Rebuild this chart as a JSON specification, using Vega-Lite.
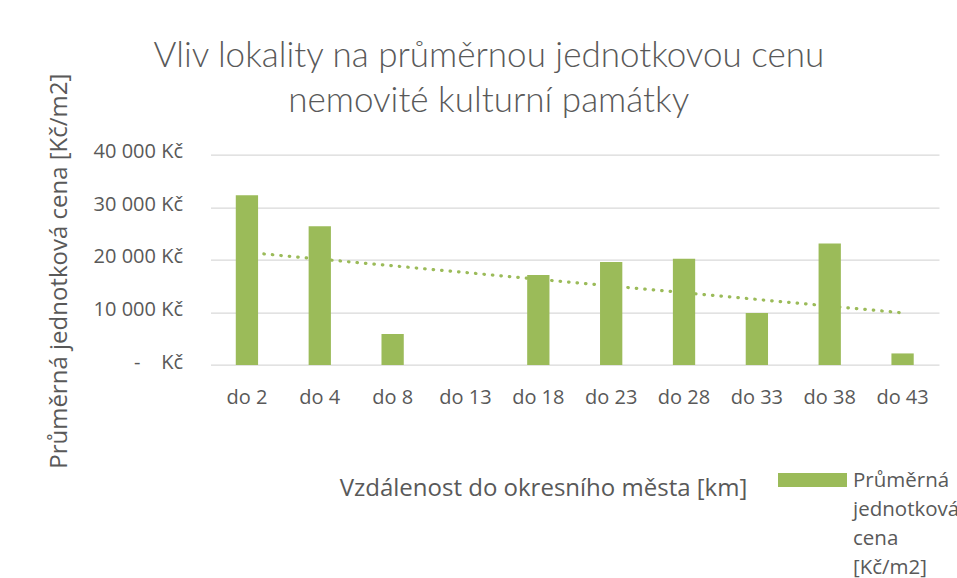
{
  "$schema": "https://vega.github.io/schema/vega-lite/v6.json",
  "autosize": "none",
  "width": 728.5,
  "height": 210.3,
  "padding": {"left": 210.5, "top": 154.7, "right": 18, "bottom": 213},
  "background": "white",
  "datasets": {
    "bars": [
      {"cat": "do 2", "idx": 1, "value": 32300},
      {"cat": "do 4", "idx": 2, "value": 26400},
      {"cat": "do 8", "idx": 3, "value": 5900},
      {"cat": "do 13", "idx": 4, "value": 0},
      {"cat": "do 18", "idx": 5, "value": 17100},
      {"cat": "do 23", "idx": 6, "value": 19600},
      {"cat": "do 28", "idx": 7, "value": 20200},
      {"cat": "do 33", "idx": 8, "value": 9900},
      {"cat": "do 38", "idx": 9, "value": 23100},
      {"cat": "do 43", "idx": 10, "value": 2200}
    ]
  },
  "data": {"name": "bars"},
  "title": {
    "text": ["Vliv lokality na průměrnou jednotkovou cenu", "nemovité kulturní památky"],
    "font": "Lato",
    "fontWeight": 300,
    "fontSize": 35,
    "color": "#595959",
    "lineHeight": 45,
    "anchor": "middle",
    "dx": -86,
    "baseline": "alphabetic",
    "offset": -74
  },
  "layer": [
    {
      "transform": [
        {"regression": "value", "on": "idx"},
        {"lookup": "idx", "from": {"data": {"name": "bars"}, "key": "idx", "fields": ["cat"]}}
      ],
      "mark": {"type": "line", "color": "#9BBB59", "strokeWidth": 3.2, "strokeCap": "round", "strokeDash": [0.5, 8]},
      "encoding": {
        "x": {"field": "cat", "type": "nominal"},
        "y": {"field": "value", "type": "quantitative"}
      }
    },
    {
      "mark": {"type": "bar"},
      "encoding": {
        "x": {
          "field": "cat",
          "type": "nominal",
          "scale": {
            "domain": ["do 2", "do 4", "do 8", "do 13", "do 18", "do 23", "do 28", "do 33", "do 38", "do 43"],
            "paddingInner": 0.694,
            "paddingOuter": 0.347
          },
          "axis": {
            "title": "Vzdálenost do okresního města [km]",
            "labelAngle": 0,
            "labelAlign": "center",
            "labelFont": "Open Sans",
            "labelFontSize": 20,
            "labelColor": "#595959",
            "labelPadding": 32,
            "ticks": false,
            "tickSize": 0,
            "domain": false,
            "titleFont": "Open Sans",
            "titleFontSize": 24,
            "titleFontWeight": "normal",
            "titleColor": "#595959",
            "titleX": 332.5,
            "titleY": 130,
            "titleAlign": "center",
            "titleBaseline": "alphabetic"
          }
        },
        "y": {
          "field": "value",
          "type": "quantitative",
          "scale": {"domain": [0, 40000]},
          "axis": {
            "title": "Průměrná jednotková cena [Kč/m2]",
            "values": [0, 10000, 20000, 30000, 40000],
            "labelExpr": "datum.value == 0 ? '-\u00a0\u00a0\u00a0\u00a0Kč' : replace(format(datum.value, ','), ',', ' ') + ' Kč'",
            "labelFont": "Open Sans",
            "labelFontSize": 20,
            "labelColor": "#595959",
            "labelPadding": 28,
            "labelOffset": -3,
            "ticks": false,
            "tickSize": 0,
            "domain": false,
            "gridColor": "#D9D9D9",
            "gridWidth": 1.3,
            "titleFont": "Open Sans",
            "titleFontSize": 24,
            "titleFontWeight": "normal",
            "titleColor": "#595959",
            "titleX": -144.5,
            "titleY": 116,
            "titleAngle": -90,
            "titleAlign": "center",
            "titleBaseline": "alphabetic"
          }
        },
        "color": {
          "datum": "Průměrná jednotková cena [Kč/m2]",
          "type": "nominal",
          "scale": {"range": ["#9BBB59"]},
          "legend": {
            "orient": "none",
            "legendX": 567.5,
            "legendY": 290.8,
            "title": null,
            "padding": 0,
            "symbolType": "M-1,-0.2H1V0.2H-1Z",
            "symbolSize": 4761,
            "symbolStrokeWidth": 0,
            "labelFont": "Open Sans",
            "labelFontSize": 20.5,
            "labelColor": "#595959",
            "labelExpr": "['Průměrná', 'jednotková', 'cena', '[Kč/m2]']",
            "labelOffset": 6,
            "labelBaseline": "top",
            "labelLimit": 400,
            "encoding": {
              "labels": {"lineHeight": {"value": 29}, "dy": {"value": -9.5}}
            }
          }
        }
      }
    }
  ],
  "config": {
    "view": {"stroke": null}
  }
}
